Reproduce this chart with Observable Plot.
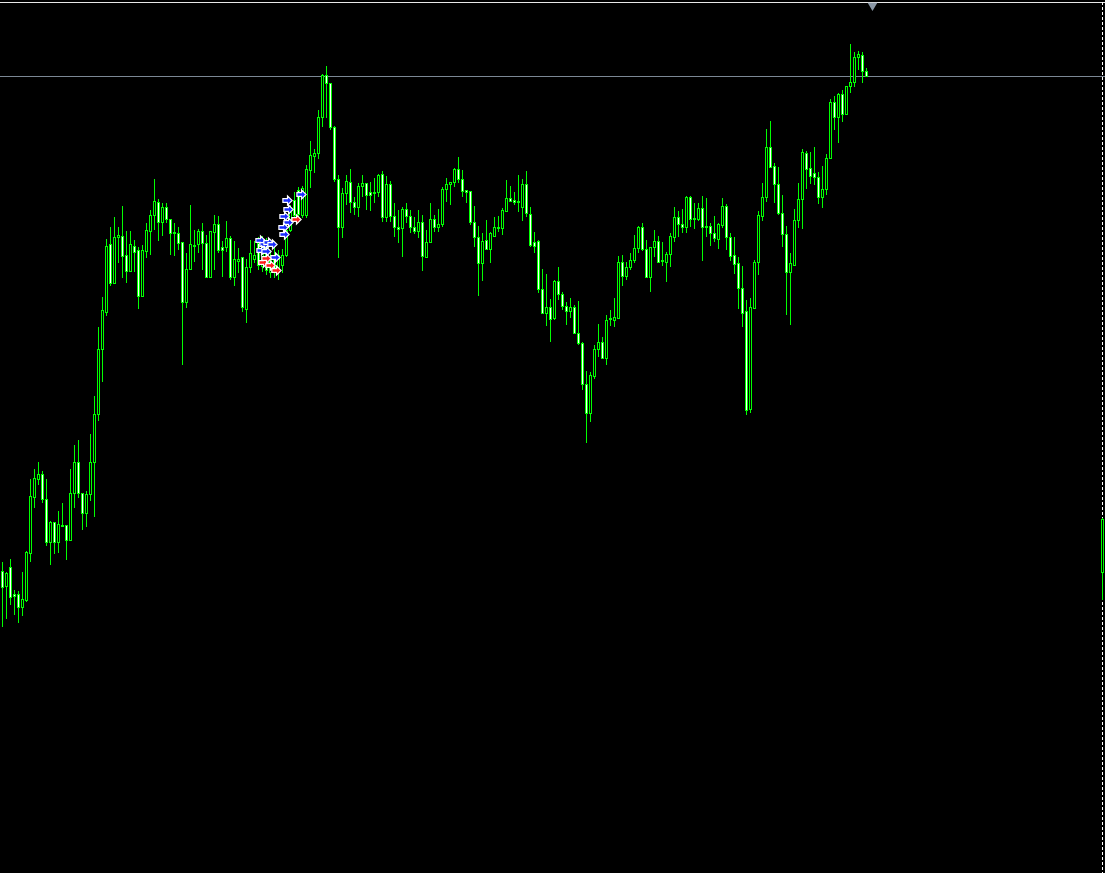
<!DOCTYPE html>
<html><head><meta charset="utf-8">
<script src="https://cdn.jsdelivr.net/npm/d3@7"></script>
<script src="https://cdn.jsdelivr.net/npm/@observablehq/plot@0.6"></script>
<style>html,body{margin:0;padding:0;background:#000;overflow:hidden}#chart svg{display:block}</style>
</head><body><div id="chart"></div>
<script>
// OHLC prices, one bar per period (oldest first)
const open = [1429,1414,1433,1406,1406,1393,1400,1447,1503,1521,
1526,1501,1458,1478,1458,1475,1475,1460,1507,1538,
1507,1487,1506,1538,1586,1651,1688,1756,1717,1763,
1764,1745,1729,1754,1750,1704,1749,1769,1785,1798,
1778,1793,1781,1768,1767,1758,1698,1731,1755,1756,
1769,1757,1723,1768,1776,1753,1753,1762,1723,1739,
1743,1691,1733,1741,1757,1734,1755,1728,1745,1730,
1735,1745,1770,1800,1810,1785,1785,1830,1844,1847,
1883,1925,1917,1873,1821,1773,1807,1818,1798,1793,
1814,1817,1808,1808,1808,1826,1783,1816,1784,1773,
1772,1791,1784,1773,1769,1778,1743,1758,1781,1773,
1776,1811,1816,1818,1831,1821,1810,1809,1778,1763,
1737,1760,1751,1764,1773,1772,1789,1802,1800,1799,
1793,1816,1786,1758,1759,1711,1687,1693,1682,1719,
1706,1694,1689,1693,1667,1657,1616,1587,1624,1651,
1658,1642,1681,1680,1682,1738,1724,1733,1740,1752,
1773,1751,1723,1753,1759,1740,1738,1746,1763,1783,
1776,1773,1803,1782,1781,1792,1774,1774,1767,1761,
1775,1794,1763,1745,1737,1712,1689,1591,1692,1738,
1784,1803,1853,1834,1816,1787,1766,1728,1735,1780,
1801,1847,1832,1827,1823,1803,1811,1842,1898,1883,
1906,1886,1914,1918,1943,1945,1929];
const high = [1438,1428,1441,1410,1409,1428,1449,1521,1531,1538,
1529,1521,1479,1478,1489,1497,1475,1531,1555,1560,
1507,1509,1566,1604,1673,1703,1761,1773,1783,1773,
1794,1769,1769,1760,1753,1755,1777,1790,1821,1801,
1797,1797,1781,1777,1773,1758,1747,1795,1770,1771,
1777,1765,1769,1785,1784,1759,1779,1764,1759,1752,
1743,1741,1760,1759,1763,1764,1762,1750,1755,1750,
1751,1777,1795,1808,1813,1814,1835,1859,1851,1890,
1926,1934,1917,1874,1825,1812,1825,1831,1803,1817,
1825,1817,1818,1822,1826,1829,1824,1819,1797,1790,
1793,1797,1790,1783,1790,1785,1770,1797,1785,1791,
1813,1822,1818,1832,1843,1830,1810,1809,1794,1774,
1767,1780,1768,1783,1784,1792,1820,1814,1808,1825,
1821,1829,1793,1768,1760,1731,1726,1701,1720,1733,
1708,1698,1702,1695,1699,1658,1629,1628,1655,1676,
1663,1685,1690,1702,1744,1745,1738,1747,1765,1774,
1777,1760,1753,1770,1764,1758,1748,1767,1793,1789,
1791,1804,1804,1797,1797,1804,1802,1777,1784,1777,
1802,1796,1767,1763,1743,1734,1700,1702,1740,1789,
1817,1871,1879,1837,1833,1805,1774,1747,1791,1817,
1851,1849,1848,1853,1828,1834,1846,1901,1904,1907,
1910,1914,1956,1948,1949,1948,1932];
const low = [1373,1381,1395,1385,1377,1384,1398,1438,1492,1515,
1497,1454,1435,1446,1447,1473,1440,1460,1492,1502,
1470,1473,1499,1483,1579,1618,1684,1714,1717,1737,
1722,1717,1728,1728,1691,1703,1742,1745,1770,1759,
1764,1777,1745,1744,1750,1635,1692,1731,1738,1747,
1730,1723,1723,1730,1747,1723,1748,1720,1714,1727,
1688,1677,1727,1737,1730,1728,1725,1722,1722,1720,
1727,1743,1768,1778,1780,1782,1782,1812,1827,1841,
1873,1882,1870,1818,1742,1762,1795,1787,1785,1783,
1803,1790,1789,1797,1803,1778,1778,1778,1763,1757,
1743,1777,1767,1766,1762,1729,1743,1757,1768,1768,
1773,1798,1795,1813,1817,1803,1797,1775,1753,1704,
1719,1751,1737,1763,1768,1765,1789,1798,1795,1788,
1779,1783,1753,1747,1707,1686,1674,1658,1680,1700,
1690,1675,1682,1667,1655,1610,1557,1578,1621,1643,
1642,1635,1674,1673,1682,1714,1720,1730,1737,1747,
1749,1722,1708,1743,1738,1734,1718,1733,1758,1763,
1767,1767,1773,1771,1779,1739,1763,1754,1758,1751,
1772,1750,1739,1726,1691,1673,1585,1587,1692,1725,
1779,1798,1832,1797,1785,1753,1685,1675,1734,1772,
1771,1811,1816,1815,1796,1792,1805,1842,1870,1857,
1878,1886,1907,1913,1930,1917,1924];
const close = [1413,1427,1403,1404,1393,1401,1448,1504,1522,1526,
1501,1458,1478,1458,1476,1474,1460,1507,1538,1507,
1487,1506,1538,1586,1651,1690,1754,1717,1763,1765,
1744,1729,1756,1748,1704,1750,1770,1785,1799,1778,
1793,1781,1767,1767,1757,1698,1731,1756,1754,1769,
1757,1723,1769,1776,1750,1750,1762,1723,1741,1741,
1693,1733,1747,1745,1735,1755,1730,1742,1732,1745,
1745,1770,1788,1785,1786,1812,1831,1845,1847,1883,
1925,1917,1873,1821,1773,1807,1819,1798,1793,1814,
1817,1805,1805,1807,1825,1783,1816,1784,1773,1771,
1791,1784,1773,1769,1778,1744,1758,1781,1773,1776,
1811,1816,1818,1831,1821,1809,1808,1778,1763,1737,
1759,1751,1767,1773,1772,1790,1802,1799,1798,1798,
1816,1787,1755,1754,1711,1687,1693,1681,1719,1706,
1694,1689,1693,1667,1657,1616,1587,1625,1651,1658,
1642,1680,1682,1683,1738,1724,1733,1740,1752,1773,
1751,1723,1753,1759,1738,1739,1746,1764,1783,1776,
1773,1803,1781,1781,1792,1773,1773,1767,1762,1776,
1794,1763,1744,1736,1712,1687,1590,1693,1738,1785,
1803,1853,1833,1816,1787,1766,1728,1737,1780,1801,
1848,1831,1824,1823,1803,1811,1842,1898,1883,1906,
1886,1914,1918,1943,1946,1929,1924];

// bar cut by the right edge of the window
const edgeBarIndex = [275];
const edgeBarOpen = [1428];
const edgeBarHigh = [1482];
const edgeBarLow = [1400];
const edgeBarClose = [1481];

// current bid line and chart-shift marker
const bidPrice = [1924];
const shiftMarkerIndex = [217.5];

// trade arrows (bar position, price)
const buyArrowIndex = [64.5,65.5,66.5,67.5,64.75,66,68.25,71.25,71.5,70.5,71.5,70.25,70.5,74.75];
const buyArrowPrice = [1760,1756,1758,1756,1750,1749,1743,1800,1791,1784,1778,1773,1766,1806];
const sellArrowIndex = [65.25,67,68.5,66,73.5];
const sellArrowPrice = [1738,1735,1730,1742,1781];

const priceDomain = [1127, 1998];
const indexDomain = [-0.5, 275.75];

const candles = open.map((o, i) => ({i, open: o, high: high[i], low: low[i], close: close[i]}));
edgeBarIndex.forEach((idx, k) => candles.push({i: idx, open: edgeBarOpen[k], high: edgeBarHigh[k], low: edgeBarLow[k], close: edgeBarClose[k]}));
const buys = buyArrowIndex.map((x, k) => ({x, y: buyArrowPrice[k]}));
const sells = sellArrowIndex.map((x, k) => ({x, y: sellArrowPrice[k]}));

const arrowSymbol = {
  draw(ctx, size) {
    const s = Math.sqrt(size) / 2;
    ctx.moveTo(-s, -s * 0.4);
    ctx.lineTo(0, -s * 0.4);
    ctx.lineTo(0, -s);
    ctx.lineTo(s, 0);
    ctx.lineTo(0, s);
    ctx.lineTo(0, s * 0.4);
    ctx.lineTo(-s, s * 0.4);
    ctx.closePath();
  }
};

const GREEN = "#00ff00";
const chart = Plot.plot({
  width: 1105,
  height: 873,
  marginTop: 2, marginBottom: 0, marginLeft: 0, marginRight: 0,
  style: {background: "#000", color: "#fff"},
  x: {domain: indexDomain, axis: null},
  y: {domain: priceDomain, axis: null},
  color: {type: "identity"},
  marks: [
    Plot.ruleY([priceDomain[1]], {stroke: "#e8e8e8", strokeWidth: 1}),
    Plot.ruleY(bidPrice, {stroke: "#7b8794", strokeWidth: 1}),
    Plot.ruleX(edgeBarIndex, {stroke: "#ffffff", strokeDasharray: "3,2", strokeWidth: 1}),
    Plot.ruleX(candles, {x: "i", y1: "low", y2: "high", stroke: GREEN, strokeWidth: 1}),
    Plot.rect(candles, {
      x1: d => d.i - 0.25, x2: d => d.i + 0.25,
      y1: "open", y2: "close",
      dx: 0.5, dy: 0.5,
      fill: d => d.close > d.open ? "#000000" : "#ffffff",
      stroke: GREEN, strokeWidth: 1
    }),
    Plot.dot(buys, {x: "x", y: "y", symbol: arrowSymbol, r: 5.2, fill: "#1a2cff", stroke: "#ffffff", strokeWidth: 1.2}),
    Plot.dot(sells, {x: "x", y: "y", symbol: arrowSymbol, r: 5.2, fill: "#ff1a1a", stroke: "#ffffff", strokeWidth: 1.2}),
    Plot.dot(shiftMarkerIndex, {x: d => d, frameAnchor: "top", symbol: "triangle", rotate: 180, r: 3.6, dy: 3, fill: "#8a97a5", stroke: "none"})
  ]
});
document.getElementById("chart").appendChild(chart);
</script>
</body></html>
